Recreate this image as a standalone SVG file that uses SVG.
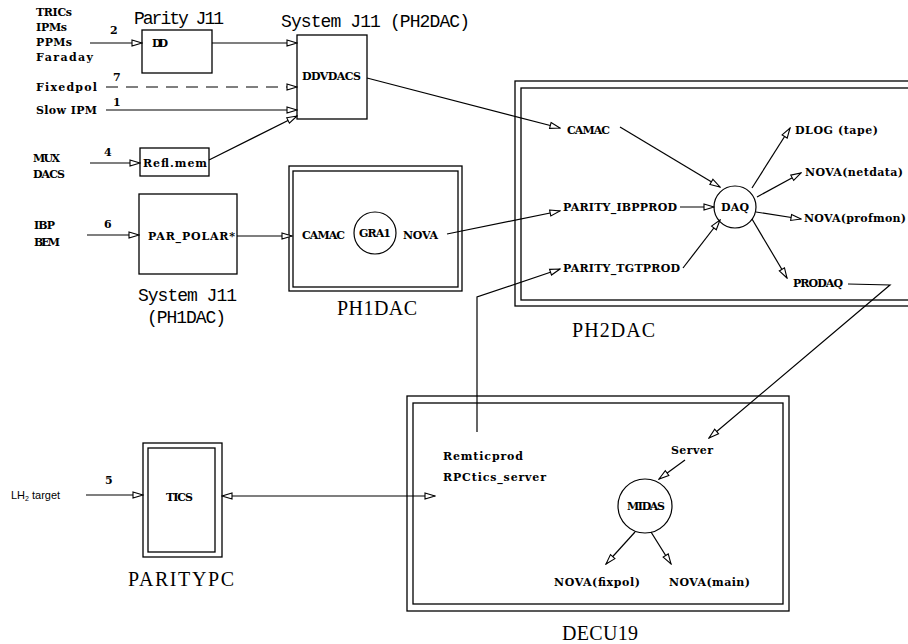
<svg xmlns="http://www.w3.org/2000/svg" width="908" height="644" viewBox="0 0 908 644">
<style>
.lbl{font-family:"DejaVu Serif","Liberation Serif",serif;font-weight:bold;font-size:11px;fill:#000}
.ttl{font-family:"Liberation Mono","DejaVu Sans Mono",monospace;font-size:18px;fill:#000}
.big{font-family:"Liberation Serif","DejaVu Serif",serif;font-size:20px;fill:#000}
.sans{font-family:"Liberation Sans",Arial,sans-serif;font-size:11px;fill:#000}
.box{fill:none;stroke:#000;stroke-width:1.3}
.ln{fill:none;stroke:#000;stroke-width:1.2;marker-end:url(#ah)}
</style>
<defs>
<marker id="ah" markerUnits="userSpaceOnUse" markerWidth="12" markerHeight="9" refX="11" refY="4" orient="auto-start-reverse" viewBox="0 0 12 8">
<path d="M1,1 L11,4 L1,7 Z" fill="#fff" stroke="#000" stroke-width="1.1"/>
</marker>
</defs>
<rect width="908" height="644" fill="#fff"/>

<g id="inputs-top">
<text class="lbl" x="36" y="16" textLength="36">TRICs</text>
<text class="lbl" x="36" y="31" textLength="31">IPMs</text>
<text class="lbl" x="36" y="46" textLength="36">PPMs</text>
<text class="lbl" x="36" y="61" textLength="57">Faraday</text>
<text class="lbl" x="110" y="34">2</text>
<text class="lbl" x="36" y="91" textLength="61">Fixedpol</text>
<text class="lbl" x="113" y="81">7</text>
<text class="lbl" x="36" y="114" textLength="61">Slow IPM</text>
<text class="lbl" x="113" y="106">1</text>
<text class="lbl" x="33" y="162" textLength="27">MUX</text>
<text class="lbl" x="33" y="178" textLength="32">DACS</text>
<text class="lbl" x="104" y="156">4</text>
<text class="lbl" x="34" y="229" textLength="21">IBP</text>
<text class="lbl" x="34" y="246" textLength="26">BEM</text>
<text class="lbl" x="104" y="228">6</text>
<text class="sans" x="11" y="499">LH<tspan font-size="7" dy="2">2</tspan><tspan dy="-2"> target</tspan></text>
<text class="lbl" x="105" y="484">5</text>
</g>

<g id="dd">
<text class="ttl" x="134" y="24" textLength="90">Parity J11</text>
<rect class="box" x="142" y="30" width="70" height="43"/>
<text class="lbl" x="152" y="47" textLength="16">DD</text>
</g>

<g id="ddvdacs">
<text class="ttl" x="281" y="27" textLength="189">System J11 (PH2DAC)</text>
<rect class="box" x="297" y="35" width="70" height="84"/>
<text class="lbl" x="302" y="80" textLength="59">DDVDACS</text>
</g>

<g id="reflmem">
<rect class="box" x="140" y="148" width="69" height="28"/>
<text class="lbl" x="143" y="167" textLength="64">Refl.mem</text>
</g>

<g id="parpolar">
<rect class="box" x="139" y="194" width="98" height="80"/>
<text class="lbl" x="148" y="240" textLength="87">PAR_POLAR*</text>
<text class="ttl" x="138" y="301" textLength="99">System J11</text>
<text class="ttl" x="147" y="323" textLength="79">(PH1DAC)</text>
</g>

<g id="ph1dac">
<rect class="box" x="289" y="166" width="173" height="125"/>
<rect class="box" x="293" y="171" width="165" height="116"/>
<text class="lbl" x="302" y="239" textLength="43">CAMAC</text>
<circle cx="375" cy="233" r="21" fill="none" stroke="#000" stroke-width="1.2"/>
<text class="lbl" x="375" y="237" text-anchor="middle" textLength="32">GRA1</text>
<text class="lbl" x="403" y="239" textLength="35">NOVA</text>
<text class="big" x="337" y="315" textLength="80">PH1DAC</text>
</g>

<g id="ph2dac">
<rect class="box" x="515" y="81" width="420" height="225"/>
<rect class="box" x="521" y="88" width="410" height="212"/>
<text class="lbl" x="567" y="134" textLength="43">CAMAC</text>
<text class="lbl" x="563" y="211" textLength="114">PARITY_IBPPROD</text>
<text class="lbl" x="563" y="272" textLength="117">PARITY_TGTPROD</text>
<circle cx="735" cy="207" r="21" fill="none" stroke="#000" stroke-width="1.2"/>
<text class="lbl" x="735" y="211" text-anchor="middle" textLength="28">DAQ</text>
<text class="lbl" x="795" y="134" textLength="83">DLOG (tape)</text>
<text class="lbl" x="805" y="176" textLength="98">NOVA(netdata)</text>
<text class="lbl" x="804" y="222" textLength="102">NOVA(profmon)</text>
<text class="lbl" x="793" y="287" textLength="50">PRODAQ</text>
<text class="big" x="572" y="337" textLength="83">PH2DAC</text>
</g>

<g id="tics">
<rect class="box" x="143" y="443" width="79" height="114"/>
<rect class="box" x="148" y="448" width="67" height="104"/>
<text class="lbl" x="166" y="501" textLength="27">TICS</text>
<text class="big" x="128" y="586" textLength="106">PARITYPC</text>
</g>

<g id="decu19">
<rect class="box" x="407" y="396" width="382" height="215"/>
<rect class="box" x="413" y="403" width="370" height="201"/>
<text class="lbl" x="443" y="460" textLength="80">Remticprod</text>
<text class="lbl" x="443" y="481" textLength="103">RPCtics_server</text>
<text class="lbl" x="671" y="454" textLength="42">Server</text>
<circle cx="645" cy="506" r="27" fill="none" stroke="#000" stroke-width="1.2"/>
<text class="lbl" x="646" y="510" text-anchor="middle" textLength="38">MIDAS</text>
<text class="lbl" x="554" y="586" textLength="86">NOVA(fixpol)</text>
<text class="lbl" x="669" y="586" textLength="81">NOVA(main)</text>
<text class="big" x="562" y="640" textLength="76">DECU19</text>
</g>

<g id="connectors">
<line class="ln" x1="90" y1="43" x2="142" y2="43"/>
<line class="ln" x1="212" y1="43" x2="297" y2="43"/>
<line class="ln" x1="106" y1="87" x2="297" y2="87" stroke-dasharray="12,8"/>
<line class="ln" x1="106" y1="110" x2="297" y2="110"/>
<line class="ln" x1="209" y1="160" x2="297" y2="116"/>
<line class="ln" x1="90" y1="163" x2="140" y2="163"/>
<line class="ln" x1="87" y1="235" x2="139" y2="235"/>
<line class="ln" x1="237" y1="236" x2="292" y2="236"/>
<line class="ln" x1="367" y1="78" x2="560" y2="128"/>
<line class="ln" x1="447" y1="234" x2="560" y2="211"/>
<polyline class="ln" points="477,432 477,297 560,269"/>
<line class="ln" x1="620" y1="127" x2="720" y2="187"/>
<line class="ln" x1="680" y1="207" x2="714" y2="207"/>
<line class="ln" x1="683" y1="268" x2="720" y2="220"/>
<line class="ln" x1="752" y1="188" x2="790" y2="128"/>
<line class="ln" x1="757" y1="197" x2="801" y2="173"/>
<line class="ln" x1="756" y1="212" x2="801" y2="219"/>
<line class="ln" x1="752" y1="219" x2="787" y2="278"/>
<polyline class="ln" points="848,284 890,285 709,438"/>
<line class="ln" x1="685" y1="460" x2="659" y2="479"/>
<line class="ln" x1="635" y1="532" x2="606" y2="564"/>
<line class="ln" x1="651" y1="532" x2="671" y2="564"/>
<line class="ln" x1="86" y1="495" x2="143" y2="495"/>
<line class="ln" x1="222" y1="496" x2="435" y2="496" marker-start="url(#ah)"/>
</g>
</svg>
